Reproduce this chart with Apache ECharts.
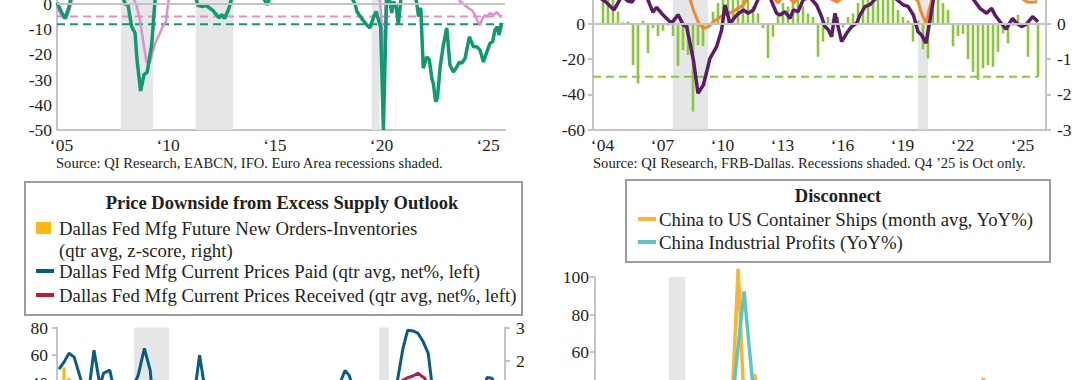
<!DOCTYPE html>
<html><head><meta charset="utf-8">
<script src="https://cdn.jsdelivr.net/npm/echarts@6/dist/echarts.min.js"></script>
<style>html,body{margin:0;padding:0;background:#fff}#c{width:1080px;height:380px}</style>
</head><body><div id="c"></div>
<script>
// ---------------- DATA ----------------
// Top-left panel (Euro Area / IFO), [year, value]
const tlGreen = [[2005.0,0.5],[2005.2,-3],[2005.38,-5.8],[2005.55,-1.5],[2005.7,4],[2006.0,12],[2006.5,20],[2007.0,23],[2007.5,18],[2007.9,9],[2008.19,0],[2008.33,-0.5],[2008.5,-9],[2008.66,-11.5],[2008.75,-22],[2008.92,-34.5],[2009.08,-28],[2009.23,-27],[2009.44,-16],[2009.6,2],[2009.9,12],[2010.5,22],[2011.0,20],[2011.4,6],[2011.6,-0.5],[2011.8,-1],[2012.0,-0.6],[2012.3,-2.5],[2012.6,-5.5],[2012.72,-4.2],[2012.85,-5.8],[2013.05,-2],[2013.25,4],[2013.8,8],[2014.3,7],[2014.7,2],[2014.85,-0.3],[2015.0,3],[2015.6,6],[2016.5,8],[2017.5,15],[2018.0,14],[2018.6,6],[2018.97,0],[2019.06,-3],[2019.3,-6],[2019.52,-8.3],[2019.67,-9.5],[2019.85,-5],[2019.96,-3],[2020.06,-6],[2020.17,-9],[2020.3,-50],[2020.45,3],[2020.55,4],[2020.69,-3.6],[2020.78,1],[2020.9,-1],[2021.0,-8.3],[2021.12,2],[2021.3,10],[2021.6,8],[2021.85,1],[2021.95,-5],[2022.05,-1.5],[2022.17,-25.5],[2022.33,-21],[2022.45,-22],[2022.57,-29.5],[2022.64,-31.5],[2022.75,-38.8],[2022.83,-37.5],[2022.96,-25],[2023.11,-16.3],[2023.27,-9.5],[2023.42,-24.2],[2023.58,-27],[2023.74,-25],[2023.86,-23],[2023.97,-23.5],[2024.13,-21.5],[2024.33,-13],[2024.52,-17],[2024.68,-17],[2024.83,-18.3],[2024.99,-23],[2025.15,-19],[2025.3,-15.5],[2025.42,-15],[2025.53,-10.3],[2025.64,-9],[2025.72,-12.3],[2025.85,-7.5]];
const tlPink = [[2005.0,-1],[2005.2,-5],[2005.45,-5.5],[2005.6,-2],[2005.75,3],[2006.5,12],[2007.5,15],[2008.2,8],[2008.6,2],[2008.74,-1],[2008.89,-6.5],[2009.05,-15.5],[2009.2,-23],[2009.36,-23],[2009.6,-15.5],[2009.83,-11.5],[2009.98,-8.5],[2010.11,-7],[2010.22,1],[2010.5,8],[2011.5,10],[2012.5,3],[2013.5,5],[2015.0,8],[2017.0,12],[2018.5,8],[2019.5,4],[2020.0,3],[2020.15,1],[2020.3,-21],[2020.42,2],[2020.8,10],[2021.5,15],[2022.5,10],[2023.3,5],[2023.75,3],[2023.9,1],[2024.02,0.3],[2024.15,-0.6],[2024.28,-1.6],[2024.45,-2.5],[2024.6,-4.4],[2024.75,-7.5],[2024.83,-8.3],[2024.91,-6.4],[2025.0,-5],[2025.07,-4.4],[2025.15,-5],[2025.3,-3.6],[2025.45,-4.4],[2025.61,-3.2],[2025.73,-4.4],[2025.85,-5]];
const tlPinkThreshold = -5;
const tlGreenThreshold = -8;
const tlRange = [2005, 2025.85];
const tlRecessions = [[2008.0,2009.5],[2011.5,2013.25],[2019.75,2020.12]];
const tlTicks = [2005,2010,2015,2020,2025];

// Top-right panel (Dallas Fed)
const trBarStart = 2004.25; // 2004Q1, quarterly
const trBars = [1.0,0.9,0.8,0.35,0.05,0.07,-1.17,-1.69,0.09,-0.83,-0.12,-0.34,-0.19,-0.05,-0.34,-1.19,-0.74,-0.88,-2.49,-0.6,-0.63,-0.1,0.35,0.6,1.2,1.4,1.1,0.9,1.0,0.8,0.5,0.3,-0.12,-0.97,-0.36,0.3,0.6,0.5,0.7,0.9,0.5,0.3,0.2,-0.93,-0.5,0.2,0.15,0.2,-0.1,0.2,0.3,0.6,1.0,1.2,1.3,1.1,0.9,1.0,0.7,0.4,0.2,0.1,-0.5,0.1,-0.72,-0.98,1.2,1.5,0.6,0.4,-0.63,-0.34,-0.28,-1.0,-1.36,-1.59,-1.26,-1.17,-1.21,-0.79,-0.27,-0.55,-0.05,0.26,0.02,-0.93,0.02,-1.5];
const trPurple = [[2003.9,18],[2004.2,14],[2004.45,12],[2004.8,8],[2005.0,12],[2005.2,16],[2005.5,13],[2005.7,12.5],[2006.0,18],[2006.3,17],[2006.5,13.6],[2006.75,6.7],[2006.93,9.5],[2007.18,6],[2007.6,1.3],[2007.75,1.5],[2008.0,5.3],[2008.27,-0.6],[2008.43,-1.5],[2008.6,-10.9],[2008.77,-20.5],[2009.0,-39.4],[2009.27,-34.7],[2009.6,-19.5],[2009.93,-12.9],[2010.18,-3.4],[2010.35,10.8],[2010.6,0.4],[2010.93,5.1],[2011.27,8],[2011.5,6.1],[2011.77,8],[2012.0,14],[2012.3,18],[2012.6,15],[2012.93,6.1],[2013.1,5.1],[2013.35,7],[2013.6,3.2],[2013.77,8],[2014.0,7],[2014.27,14],[2014.6,15],[2014.93,10.8],[2015.15,5],[2015.35,-1.5],[2015.5,-3],[2015.68,-7.2],[2015.85,6.1],[2016.18,-10],[2016.43,-5.3],[2016.68,-1.5],[2016.93,0.4],[2017.1,5.1],[2017.35,9.9],[2017.6,11],[2017.85,14],[2018.2,22],[2018.6,18],[2018.93,14],[2019.27,10.8],[2019.5,10],[2019.77,5.1],[2020.0,-4.4],[2020.18,-6.3],[2020.4,-10.9],[2020.6,2.3],[2020.77,14],[2021.2,30],[2021.8,28],[2022.3,20],[2022.77,14],[2023.1,8.9],[2023.43,6.1],[2023.68,8.9],[2023.85,5.1],[2024.1,1.3],[2024.4,-3],[2024.73,3.2],[2024.93,0.4],[2025.18,-1.5],[2025.43,0],[2025.73,4.2],[2026.0,1.3]];
const trOrange = [[2003.9,25],[2005.0,28],[2006.5,25],[2007.5,20],[2008.3,18],[2008.6,14],[2008.77,8],[2009.0,1.3],[2009.27,-2.5],[2009.52,-1.5],[2009.77,1.3],[2010.0,3.2],[2010.27,5.1],[2010.52,6.1],[2010.75,7],[2011.0,8.9],[2011.27,10.8],[2011.43,14],[2011.7,18],[2012.2,16],[2012.8,14.5],[2013.0,12],[2013.2,15],[2013.6,14.5],[2013.8,12],[2014.0,15],[2015.0,18],[2015.7,14],[2015.95,12.5],[2016.2,15],[2017.5,22],[2019.0,20],[2019.8,15],[2020.0,13],[2020.15,7],[2020.4,0.4],[2020.55,8],[2020.7,15],[2021.5,30],[2023.0,22],[2024.5,16],[2025.2,14.5],[2025.45,12.5],[2025.7,12.3],[2025.95,12.8]];
const trThreshold = -1.5; // right axis
const trRange = [2003.75, 2026.0];
const trRecessions = [[2007.75,2009.5],[2020.0,2020.5]];
const trTicks = [2004,2007,2010,2013,2016,2019,2022,2025];

// Bottom-left panel (Price Downside)
const blYellowStart = 2004.25;
const blYellow = [1.8,1.48,0.9,0.5,0.3,0.2,-0.9,-1.3,0.1,-0.7,-0.2,-0.3,-0.2,-0.1,-0.4,-1.0,-0.7,-0.9,-2.0,-0.6,-0.5,0.0,0.4,0.6,1.0,1.1,0.9,0.8,0.9,0.7,0.5,0.3,-0.1,-0.8,-0.3,0.3,0.5,0.5,0.6,0.8,0.5,0.3,0.2,-0.8,-0.5,0.2,0.1,0.2,-0.1,0.2,0.3,0.5,0.9,1.0,1.1,1.0,0.8,0.9,0.6,0.4,0.2,0.1,-0.4,0.1,-0.6,-0.9,1.2,1.3,0.6,0.4,-0.5,-0.3,-0.3,-0.9,-1.1,-1.3,-1.1,-1.0,-1.0,-0.7,-0.2,-0.5,0.0,0.2,0.0,-0.8,0.0,-1.3];
const blPaid = [[2004.0,50],[2004.25,55],[2004.5,61.4],[2004.76,58.6],[2005.1,42],[2005.45,30],[2005.75,63.6],[2006.05,38],[2006.23,47],[2006.54,49.2],[2006.75,35],[2007.0,25],[2007.5,30],[2007.96,45.6],[2008.27,65],[2008.56,49],[2008.8,10],[2009.1,-30],[2009.4,-15],[2009.75,10],[2010.25,25],[2010.75,30],[2011.03,60],[2011.3,35],[2011.75,20],[2012.25,25],[2012.75,15],[2013.5,18],[2014.25,20],[2015.0,5],[2015.5,10],[2016.0,0],[2016.75,15],[2017.5,28],[2018.0,38],[2018.3,49],[2018.5,45.6],[2018.75,35],[2019.25,20],[2019.75,12],[2020.25,-20],[2020.6,10],[2020.9,40],[2021.2,65],[2021.43,78],[2021.7,77.5],[2021.94,76],[2022.2,70],[2022.46,61.4],[2022.64,40],[2022.9,25],[2023.5,20],[2024.0,22],[2024.5,25],[2024.9,20],[2025.15,30],[2025.4,44],[2025.65,43.3],[2025.9,35]];
const blReceived = [[2004.0,10],[2005.0,15],[2006.0,12],[2007.0,8],[2008.3,25],[2009.0,-20],[2010.0,5],[2011.2,20],[2012.0,5],[2014.0,8],[2015.5,-5],[2016.0,-8],[2017.0,10],[2018.4,22],[2019.5,5],[2020.3,-15],[2020.6,10],[2020.9,38],[2021.2,42],[2021.43,43.7],[2021.7,45],[2021.94,47],[2022.29,43.4],[2022.5,35],[2023.0,15],[2024.0,10],[2025.0,12],[2025.75,15]];
const blRecessions = [[2007.75,2009.5],[2020.0,2020.5]];

// Bottom-right panel (Disconnect)
const brShips = [[2019.0,-5],[2019.25,-8],[2019.5,-12],[2019.75,-6],[2020.0,-10],[2020.17,-30],[2020.33,-25],[2020.5,-5],[2020.67,8],[2020.83,12],[2020.97,18],[2021.1,36],[2021.19,104.3],[2021.28,32],[2021.36,34],[2021.44,48.3],[2021.53,28],[2021.62,30],[2021.78,44],[2021.9,22],[2022.1,10],[2022.4,-5],[2022.7,-15],[2023.0,-20],[2023.4,-5],[2023.8,10],[2024.2,15],[2024.6,22],[2024.85,30],[2024.94,46.2],[2025.05,25],[2025.3,0],[2025.55,-15],[2025.8,-20]];
const brProfits = [[2019.0,-10],[2019.25,5],[2019.5,-2],[2019.75,5],[2020.1,-38],[2020.3,-20],[2020.5,10],[2020.75,20],[2020.95,25],[2021.12,40],[2021.28,92.3],[2021.42,40],[2021.55,18],[2021.75,15],[2022.0,4],[2022.5,-2],[2022.9,-9],[2023.2,-20],[2023.6,-6],[2023.9,15],[2024.3,2],[2024.6,-17],[2024.9,11],[2025.2,3],[2025.5,-3],[2025.75,20]];
const brRecessions = [[2020.13,2020.38]];

// Texts
const tlSource = 'Source: QI Research, EABCN, IFO. Euro Area recessions shaded.';
const trSource = 'Source: QI Research, FRB-Dallas. Recessions shaded. Q4 \u201925 is Oct only.';
const blTitle = 'Price Downside from Excess Supply Outlook';
const blLegend = ['Dallas Fed Mfg Future New Orders-Inventories', '(qtr avg, z-score, right)', 'Dallas Fed Mfg Current Prices Paid (qtr avg, net%, left)', 'Dallas Fed Mfg Current Prices Received (qtr avg, net%, left)'];
const brTitle = 'Disconnect';
const brLegend = ['China to US Container Ships (month avg, YoY%)', 'China Industrial Profits (YoY%)'];

// ---------------- STYLE ----------------
const FONT = '"Liberation Serif", "Times New Roman", serif';
const TXT = '#231f20';
const AX = '#c4c4c4';
const SHADE = '#e5e6e7';
const C = {green:'#0f9a72', pink:'#de8fd0', bar:'#8cc63f', purple:'#5b1d6a', orange:'#f5872a',
  blue:'#0b5c7e', red:'#b3203d', yellow:'#fdb813', ship:'#fbb534', teal:'#5ec5c5'};
const LBL = 17.5;

function xAx(gi, min, max, ticks) {
  return {type:'value', gridIndex:gi, min, max,
    axisLine:{show:true, onZero:false, lineStyle:{color:AX, width:2}},
    axisTick:{show:false}, splitLine:{show:false},
    axisLabel: ticks ? {show:true, customValues:ticks, formatter:v=>'\u2018'+String(Math.round(v)).slice(2),
      color:TXT, fontFamily:FONT, fontSize:LBL, margin:6, padding:[0,0,0,9]} : {show:false}};
}
// lo/hi: range of tick labels that fall inside the visible crop
function yAx(gi, min, max, interval, pos, tick, margin, lo, hi) {
  return {type:'value', gridIndex:gi, min, max, interval, position:pos,
    axisLine:{show:true, onZero:false, lineStyle:{color:AX, width:2}},
    axisTick:{show:tick, length:5, lineStyle:{color:AX, width:2}},
    splitLine:{show:false},
    axisLabel:{color:TXT, fontFamily:FONT, fontSize:LBL, margin,
      formatter:v=>(v>=lo && v<=hi) ? String(v) : ''}};
}
function shadeSeries(xi, yi, rec, zeroLine) {
  const s = {type:'line', xAxisIndex:xi, yAxisIndex:yi, data:[], z:1, silent:true,
    markArea:{silent:true, itemStyle:{color:SHADE}, data:rec.map(r=>[{xAxis:r[0]},{xAxis:r[1]}])}};
  if (zeroLine) s.markLine = {silent:true, symbol:'none', label:{show:false}, animation:false,
    lineStyle:{color:AX, width:2, type:'solid'}, data:[{yAxis:0}]};
  return s;
}
function line(name, xi, yi, data, color, width, extra) {
  return Object.assign({type:'line', name, xAxisIndex:xi, yAxisIndex:yi, data, symbol:'none',
    lineStyle:{color, width}, itemStyle:{color}, z:3, animation:false}, extra||{});
}
function dashed(xi, yi, x0, x1, v, color) {
  return {type:'line', xAxisIndex:xi, yAxisIndex:yi, data:[[x0,v],[x1,v]], symbol:'none', z:2,
    lineStyle:{color, width:2, type:[8,5]}, animation:false, silent:true};
}
function txt(x, y, text, size, opts) {
  return Object.assign({type:'text', x, y, silent:true, style:Object.assign({text, fontFamily:FONT, fontSize:size,
    fill:TXT, align:'left', verticalAlign:'middle'}, opts||{})});
}
function grid(left, right, top, bottom) {
  return {left, right, top, bottom, outerBoundsMode:'none', containLabel:false};
}

const chart = echarts.init(document.getElementById('c'), null, {renderer:'svg', width:1080, height:380});
chart.setOption({
  animation:false,
  backgroundColor:'#fff',
  textStyle:{fontFamily:FONT},
  grid:[
    grid(57, 575, -71.6, 250),
    grid(593, 34, -46.33, 250.5),
    grid(57, 575, 327.5, -113.7),
    grid(595, 34, 277, -159.5)
  ],
  xAxis:[
    xAx(0, 2005, 2026, tlTicks),
    xAx(1, 2003.75, 2026.4, trTicks),
    xAx(2, 2003.9, 2026.3, null),
    xAx(3, 2019, 2025.9, null)
  ],
  yAxis:[
    yAx(0, -50, 30, 10, 'left', false, 5, -50, 0),
    yAx(1, -60, 40, 20, 'left', true, 8, -60, 0),
    yAx(1, -3, 2, 1, 'right', true, 11, -3, 0),
    yAx(2, -40, 80, 20, 'left', true, 9, 40, 80),
    yAx(2, -2, 3, 1, 'right', true, 11, 2, 3),
    yAx(3, -40, 100, 20, 'left', true, 6, 40, 100)
  ],
  series:[
    // top-left
    shadeSeries(0, 0, tlRecessions, true),
    dashed(0, 0, tlRange[0], tlRange[1], tlPinkThreshold, C.pink),
    dashed(0, 0, tlRange[0], tlRange[1], tlGreenThreshold, C.green),
    line('Pink series', 0, 0, tlPink, C.pink, 2.5),
    line('Green series', 0, 0, tlGreen, C.green, 3.5, {z:4}),
    // top-right
    shadeSeries(1, 1, trRecessions, true),
    {type:'bar', name:'Green bars', xAxisIndex:1, yAxisIndex:2, barWidth:2.6, z:2, animation:false,
      itemStyle:{color:C.bar}, data:trBars.map((v,i)=>[trBarStart+0.25*i, v])},
    dashed(1, 2, trRange[0], trRange[1], trThreshold, C.bar),
    line('Orange series', 1, 1, trOrange, C.orange, 3),
    line('Purple series', 1, 1, trPurple, C.purple, 3.5, {z:4}),
    // bottom-left
    shadeSeries(2, 3, blRecessions, false),
    {type:'bar', name:blLegend[0], xAxisIndex:2, yAxisIndex:4, barWidth:3.2, z:2, animation:false,
      itemStyle:{color:C.yellow}, data:blYellow.map((v,i)=>[blYellowStart+0.25*i, v])},
    line(blLegend[2], 2, 3, blPaid, C.blue, 3),
    line(blLegend[3], 2, 3, blReceived, C.red, 3, {z:4}),
    // bottom-right
    shadeSeries(3, 5, brRecessions, false),
    line(brLegend[0], 3, 5, brShips, C.ship, 3.5, {clip:false}),
    line(brLegend[1], 3, 5, brProfits, C.teal, 3.5, {z:4})
  ],
  graphic:[
    txt(56, 162.5, tlSource, 14.6),
    txt(593, 162.5, trSource, 14.6),
    // bottom-left legend box
    {type:'rect', shape:{x:25, y:182, width:497, height:133}, style:{fill:'#fff', stroke:'#9d9d9d', lineWidth:2}, z:10},
    txt(282, 203, blTitle, 18.5, {align:'center', fontWeight:'bold'}),
    {type:'rect', shape:{x:36, y:222, width:15, height:12}, style:{fill:C.yellow}, z:11},
    txt(59, 228, blLegend[0], 18.8),
    txt(59, 250, blLegend[1], 18.8),
    {type:'line', shape:{x1:36, y1:271, x2:54, y2:271}, style:{stroke:C.blue, lineWidth:4}, z:11},
    txt(59, 271, blLegend[2], 18.8),
    {type:'line', shape:{x1:36, y1:295, x2:54, y2:295}, style:{stroke:C.red, lineWidth:4}, z:11},
    txt(59, 295, blLegend[3], 18.8),
    // bottom-right legend box
    {type:'rect', shape:{x:626, y:180, width:424, height:82}, style:{fill:'#fff', stroke:'#9d9d9d', lineWidth:2}, z:10},
    txt(838, 195.5, brTitle, 18.5, {align:'center', fontWeight:'bold'}),
    {type:'line', shape:{x1:638, y1:219, x2:656, y2:219}, style:{stroke:C.ship, lineWidth:4}, z:11},
    txt(659, 219, brLegend[0], 18.8),
    {type:'line', shape:{x1:638, y1:242, x2:656, y2:242}, style:{stroke:C.teal, lineWidth:4}, z:11},
    txt(659, 242, brLegend[1], 18.8)
  ].map(g=>Object.assign({z:12}, g))
});
</script></body></html>
